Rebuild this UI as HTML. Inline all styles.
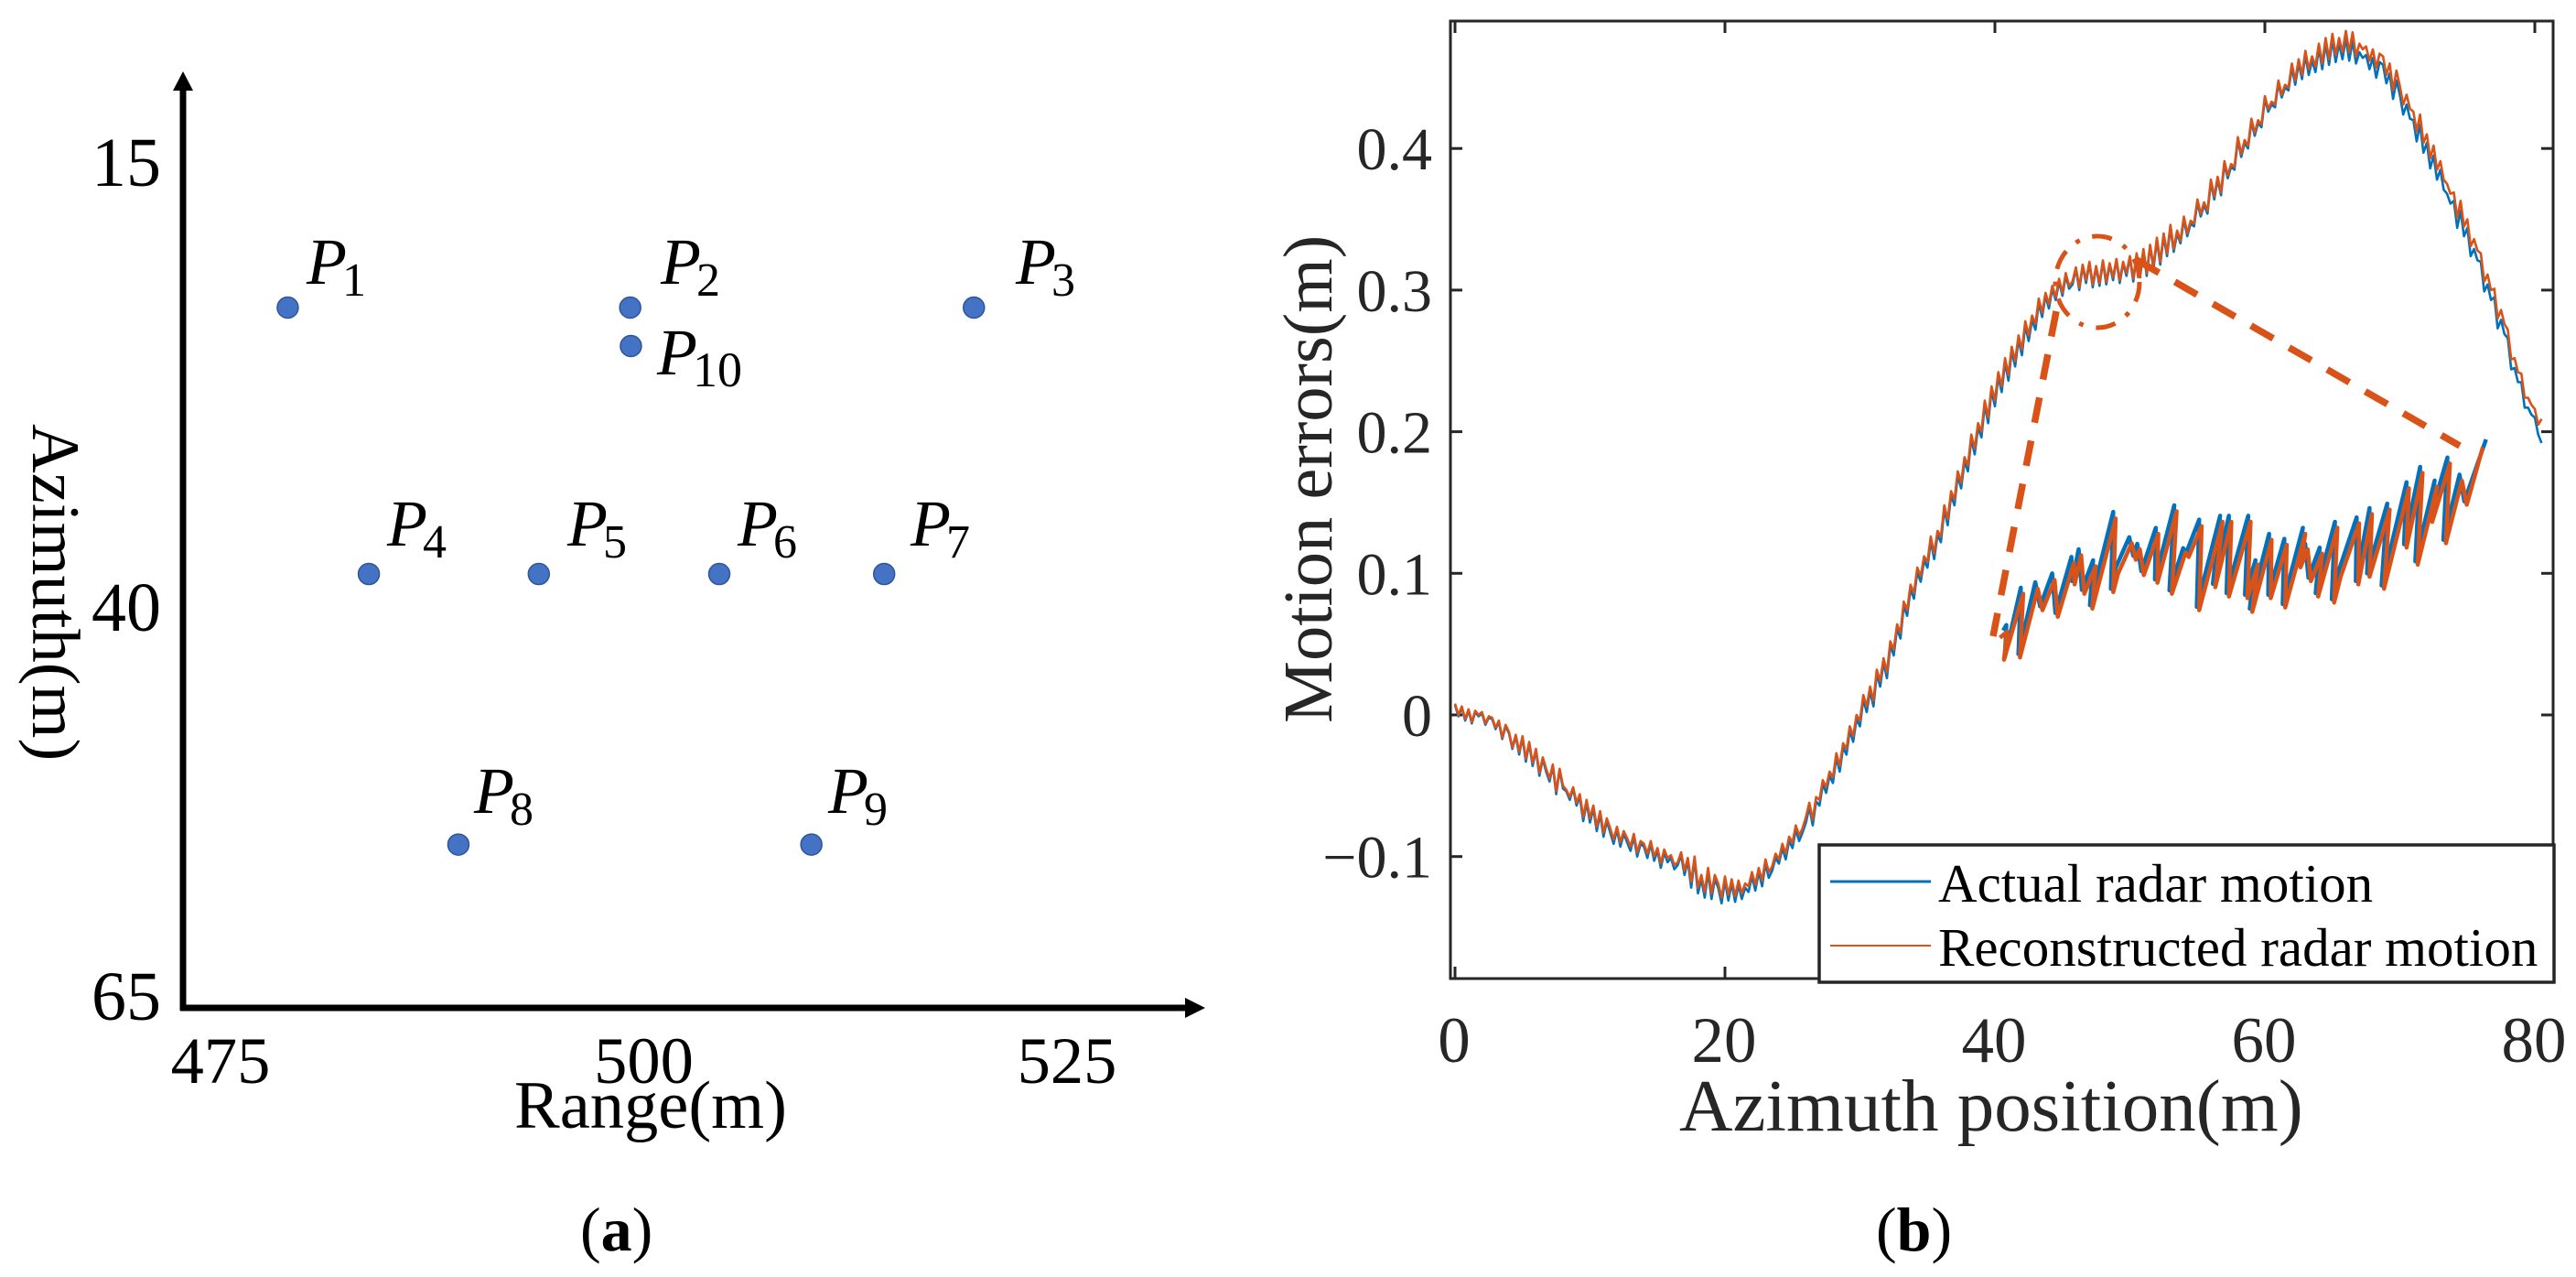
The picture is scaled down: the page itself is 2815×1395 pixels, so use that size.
<!DOCTYPE html>
<html lang="en">
<head>
<meta charset="utf-8">
<title>Point targets and radar motion errors</title>
<style>
  html, body { margin: 0; padding: 0; background: #fff; }
  svg { display: block; }
  text { font-family: "Liberation Serif", "Times New Roman", serif; }
</style>
</head>
<body>
<svg id="figure" xmlns="http://www.w3.org/2000/svg" width="2815" height="1395" viewBox="0 0 2815 1395">
  <rect x="0" y="0" width="2815" height="1395" fill="#ffffff"/>

  <!-- Panel (a) -->
  <g id="panel-a">
    <line x1="200" y1="1104" x2="200" y2="90" stroke="#000" stroke-width="7"/>
    <polygon points="200,78 189,99 211,99" fill="#000"/>
    <line x1="197" y1="1101" x2="1300" y2="1101" stroke="#000" stroke-width="7"/>
    <polygon points="1317,1101 1295,1090 1295,1112" fill="#000"/>
    <text x="562" y="1232" font-size="74.5" fill="#000">Range(m)</text>
    <text transform="translate(36,463) rotate(90)" font-size="74.5" fill="#000">Azimuth(m)</text>

    <g font-size="72" font-style="italic" fill="#000">
      <text x="335" y="310">P<tspan dx="-5" dy="13" font-size="52" font-style="normal">1</tspan></text>
      <text x="722" y="310">P<tspan dx="-5" dy="13" font-size="52" font-style="normal">2</tspan></text>
      <text x="1110" y="310">P<tspan dx="-5" dy="13" font-size="52" font-style="normal">3</tspan></text>
      <text x="718" y="409">P<tspan dx="-5" dy="13" font-size="54" font-style="normal">10</tspan></text>
      <text x="423" y="596">P<tspan dx="-5" dy="13" font-size="52" font-style="normal">4</tspan></text>
      <text x="620" y="596">P<tspan dx="-5" dy="13" font-size="52" font-style="normal">5</tspan></text>
      <text x="806" y="596">P<tspan dx="-5" dy="13" font-size="52" font-style="normal">6</tspan></text>
      <text x="995" y="596">P<tspan dx="-5" dy="13" font-size="52" font-style="normal">7</tspan></text>
      <text x="518" y="888">P<tspan dx="-5" dy="13" font-size="52" font-style="normal">8</tspan></text>
      <text x="905" y="888">P<tspan dx="-5" dy="13" font-size="52" font-style="normal">9</tspan></text>
    </g>
    <g id="panel-a-marks"></g>
    <text x="634" y="1366" font-size="68" fill="#000">(<tspan font-weight="bold">a</tspan>)</text>
  </g>

  <!-- Panel (b) -->
  <g id="panel-b">
    <rect x="1585" y="23" width="1205" height="1046" fill="none" stroke="#262626" stroke-width="3"/>
    <g id="panel-b-ticks"></g>
    <g id="panel-b-lines"></g>

    <line x1="2247" y1="340" x2="2178" y2="695" stroke="#D95319" stroke-width="7.5" stroke-dasharray="28 20"/>
    <line x1="2335" y1="284" x2="2688" y2="487" stroke="#D95319" stroke-width="7.5" stroke-dasharray="28 20"/>
    <ellipse cx="2292" cy="308" rx="46" ry="50" fill="none" stroke="#D95319" stroke-width="5" stroke-dasharray="22 14 5 14"/>

    <g id="panel-b-inset"></g>

    <g>
      <rect x="1988" y="923" width="803" height="150" fill="#ffffff" stroke="#262626" stroke-width="3.5"/>
      <line x1="2000" y1="963" x2="2110" y2="963" stroke="#0072BD" stroke-width="3"/>
      <text x="2118" y="985" font-size="59" fill="#000">Actual radar motion</text>
      <line x1="2000" y1="1033" x2="2110" y2="1033" stroke="#D95319" stroke-width="2"/>
      <text x="2118" y="1055" font-size="59" fill="#000">Reconstructed radar motion</text>
    </g>

    <text x="1835" y="1235" font-size="81" fill="#262626">Azimuth position(m)</text>
    <text transform="translate(1455,790) rotate(-90)" font-size="76.5" fill="#262626">Motion errors(m)</text>
    <text x="2050" y="1366" font-size="68" fill="#000">(<tspan font-weight="bold">b</tspan>)</text>
  </g>
</svg>

<script>
// ---- Panel (a) data ----
const rangeTicks = [475, 500, 525];
const azimuthTicks = [15, 40, 65];
const targetNames = ['P1', 'P2', 'P3', 'P10', 'P4', 'P5', 'P6', 'P7', 'P8', 'P9'];
const targetRange = [478.97, 499.2, 519.5, 499.24, 483.76, 493.8, 504.46, 514.2, 489.05, 509.9];
const targetAzimuth = [23.18, 23.18, 23.18, 25.34, 38.15, 38.15, 38.15, 38.15, 55.27, 55.27];

// ---- Panel (b) data ----
const xTickValues = [0, 20, 40, 60, 80];
const xTickLabels = ['0', '20', '40', '60', '80'];
const yTickValues = [-0.1, 0, 0.1, 0.2, 0.3, 0.4];
const yTickLabels = ['\u22120.1', '0', '0.1', '0.2', '0.3', '0.4'];
const sampleStep = 0.25;

const actualMotion = [
  .007,-.001,.005,-.004, .003,-.006,.002,-.001, .001,-.007,-.002,-.003, -.010,-.005,-.017,-.008,
  -.013,-.024,-.015,-.028, -.016,-.033,-.020,-.036, -.025,-.043,-.031,-.040, -.047,-.036,-.056,-.039,
  -.052,-.054,-.060,-.052, -.064,-.058,-.075,-.062, -.076,-.066,-.082,-.070, -.086,-.075,-.083,-.091,
  -.081,-.093,-.084,-.090, -.096,-.086,-.100,-.091, -.093,-.101,-.091,-.103, -.096,-.108,-.097,-.104,
  -.101,-.109,-.106,-.099, -.113,-.103,-.122,-.102, -.126,-.116,-.129,-.111, -.130,-.116,-.122,-.133,
  -.117,-.131,-.119,-.132, -.120,-.130,-.122,-.125, -.114,-.124,-.111,-.121, -.105,-.115,-.110,-.101,
  -.105,-.094,-.102,-.089, -.094,-.081,-.089,-.083, -.076,-.065,-.078,-.061, -.064,-.049,-.055,-.043,
  -.048,-.030,-.040,-.023, -.028,-.011,-.019,-.003, -.008,.011,.002,.017, .006,.029,.020,.037,
  .026,.049,.042,.061, .054,.077,.070,.089, .082,.101,.094,.109, .104,.123,.110,.127,
  .122,.145,.134,.155, .148,.169,.160,.179, .172,.195,.184,.203, .196,.219,.206,.229,
  .218,.239,.228,.249, .236,.257,.246,.265, .254,.275,.264,.279, .272,.291,.281,.296,
  .287,.301,.293,.306, .296,.310,.301,.304, .315,.300,.317,.305, .319,.302,.316,.303,
  .320,.304,.318,.307, .321,.305,.319,.310, .323,.306,.325,.309, .328,.310,.331,.315,
  .335,.318,.338,.324, .344,.327,.340,.333, .350,.338,.347,.345, .362,.352,.360,.354,
  .376,.364,.378,.367, .389,.379,.387,.385, .406,.394,.404,.400, .419,.409,.418,.415,
  .435,.426,.431,.429, .446,.436,.443,.441, .457,.445,.460,.449, .466,.452,.462,.454,
  .471,.456,.474,.459, .477,.461,.474,.463, .478,.462,.476,.460, .468,.464,.466,.456,
  .464,.450,.461,.459, .446,.453,.435,.448, .438,.424,.431,.421, .420,.405,.417,.397,
  .404,.386,.395,.378, .385,.371,.368,.361, .363,.344,.356,.338, .344,.324,.329,.321,
  .320,.299,.304,.293, .295,.273,.279,.269, .266,.244,.245,.235, .235,.217,.217,.212,
  .210,.198,.192
];

const reconstructedMotion = [
  .008,.000,.006,-.003, .004,-.005,.003,.000, .002,-.006,-.001,-.002, -.009,-.004,-.016,-.007,
  -.012,-.023,-.014,-.026, -.015,-.031,-.019,-.034, -.024,-.041,-.030,-.038, -.045,-.035,-.054,-.038,
  -.050,-.053,-.058,-.051, -.062,-.056,-.072,-.060, -.073,-.064,-.079,-.068, -.083,-.073,-.080,-.088,
  -.079,-.090,-.082,-.087, -.093,-.084,-.097,-.089, -.091,-.098,-.089,-.100, -.094,-.105,-.095,-.101,
  -.099,-.106,-.104,-.097, -.110,-.101,-.118,-.100, -.122,-.113,-.125,-.108, -.126,-.113,-.119,-.129,
  -.114,-.127,-.116,-.128, -.117,-.126,-.119,-.121, -.111,-.120,-.108,-.117, -.102,-.111,-.107,-.098,
  -.102,-.091,-.098,-.086, -.090,-.078,-.085,-.080, -.072,-.062,-.074,-.058, -.060,-.046,-.051,-.040,
  -.044,-.027,-.036,-.020, -.024,-.008,-.015,.000, -.004,.014,.006,.020, .010,.032,.024,.040,
  .030,.052,.046,.064, .058,.080,.074,.092, .086,.104,.098,.112, .108,.126,.114,.130,
  .126,.148,.138,.158, .152,.172,.164,.182, .176,.198,.188,.206, .200,.222,.210,.232,
  .222,.242,.232,.252, .240,.260,.250,.268, .258,.278,.268,.282, .276,.294,.284,.298,
  .290,.303,.295,.308, .298,.312,.303,.306, .316,.302,.318,.307, .320,.304,.317,.305,
  .321,.306,.319,.309, .322,.307,.320,.312, .324,.308,.326,.311, .329,.312,.332,.317,
  .337,.320,.340,.326, .346,.329,.342,.335, .352,.340,.349,.347, .364,.354,.362,.356,
  .378,.366,.380,.369, .391,.381,.389,.387, .408,.396,.406,.402, .421,.411,.420,.417,
  .437,.428,.433,.431, .448,.438,.445,.443, .460,.448,.463,.452, .469,.456,.465,.458,
  .474,.460,.478,.463, .481,.466,.478,.468, .483,.468,.482,.465, .474,.470,.472,.462,
  .470,.457,.467,.465, .452,.460,.441,.455, .444,.431,.438,.428, .426,.412,.424,.404,
  .410,.393,.402,.385, .391,.378,.375,.368, .369,.351,.363,.345, .350,.331,.336,.328,
  .326,.306,.311,.300, .301,.280,.286,.276, .272,.251,.252,.242, .241,.224,.224,.219,
  .216,.205,.209
];

const insetActualPos = [45.00,45.04,45.02,45.22,45.19,45.40,45.46,45.61,45.65,45.85,45.86,45.94,45.98,46.12,46.08,46.37,46.34,46.40,46.57,46.62,46.67,46.72,46.90,46.89,47.13,47.07,47.24,47.28,47.44,47.41,47.70,47.61,47.81,47.78,48.05,48.01,48.14,48.07,48.31,48.30,48.50,48.48,48.73,48.67,48.76,48.80,48.94,48.89,49.13,49.09,49.17,49.40,49.39,49.56,49.53,49.78,49.71,50.02,49.99,50.19,50.13,50.37,50.31,50.53,50.48,50.68,50.74,51.01];
const insetActualErr = [.2952,.2962,.2903,.3030,.2909,.3040,.2996,.3056,.2984,.3086,.3042,.3100,.3026,.3080,.2998,.3168,.3028,.3066,.3122,.3088,.3110,.3060,.3139,.3045,.3180,.3025,.3102,.3094,.3154,.2995,.3161,.3037,.3161,.3020,.3161,.3017,.3080,.2992,.3128,.3017,.3119,.3000,.3139,.3074,.3110,.3048,.3103,.3020,.3150,.3009,.3058,.3158,.3042,.3175,.3056,.3183,.3034,.3222,.3109,.3250,.3078,.3225,.3156,.3267,.3117,.3236,.3187,.3300];
const insetReconPos = [44.96,45.05,45.01,45.25,45.21,45.43,45.49,45.64,45.68,45.88,45.89,45.97,46.01,46.15,46.11,46.40,46.37,46.43,46.60,46.65,46.70,46.75,46.93,46.92,47.16,47.10,47.27,47.31,47.47,47.44,47.73,47.64,47.84,47.81,48.08,48.04,48.17,48.10,48.34,48.33,48.53,48.51,48.76,48.70,48.79,48.83,48.97,48.92,49.16,49.12,49.20,49.43,49.42,49.59,49.56,49.81,49.74,50.05,50.02,50.22,50.16,50.40,50.34,50.56,50.51,50.71,50.77,50.97];
const insetReconErr = [.2939,.2950,.2899,.3019,.2903,.3028,.2989,.3044,.2977,.3075,.3036,.3089,.3019,.3069,.2992,.3156,.3022,.3056,.3111,.3081,.3100,.3053,.3128,.3039,.3169,.3019,.3094,.3086,.3142,.2989,.3150,.3031,.3150,.3014,.3150,.3011,.3072,.2986,.3117,.3011,.3108,.2994,.3128,.3067,.3100,.3042,.3092,.3014,.3139,.3003,.3050,.3147,.3036,.3164,.3050,.3172,.3028,.3211,.3103,.3239,.3072,.3214,.3150,.3256,.3111,.3225,.3181,.3286];

// ---- Scales ----
function rangeX(v) { return 241 + (v - 475) * 18.5; }
// The reference's azimuth axis is hand-placed and not evenly spaced: piecewise scale.
function azimuthY(v) { return v <= 40 ? 177 + (v - 15) * 19.44 : 663 + (v - 40) * 17; }
function motionX(v) { return 1590 + v * 14.75; }
function motionY(v) { return 781 - v * 1547; }
function insetX(v) { return 2189 + (v - 45) * 87.8; }
function insetY(v) { return 720 - (v - 0.29) * 6000; }

const SVGNS = 'http://www.w3.org/2000/svg';
function make(parent, tag, attrs, content) {
  const node = document.createElementNS(SVGNS, tag);
  Object.keys(attrs).forEach(function (k) { node.setAttribute(k, attrs[k]); });
  if (content !== undefined) node.textContent = content;
  parent.appendChild(node);
  return node;
}

// ---- Panel (a) marks ----
const marksA = document.getElementById('panel-a-marks');
const panelA = document.getElementById('panel-a');
targetNames.forEach(function (name, i) {
  const el = make(marksA, 'circle', {
    cx: rangeX(targetRange[i]), cy: azimuthY(targetAzimuth[i]), r: 11.5,
    fill: '#4472C4', stroke: '#2F5597', 'stroke-width': 1.5
  });
  
  
});
rangeTicks.forEach(function (v) {
  const el = make(panelA, 'text', {
    x: rangeX(v), y: 1183, 'font-size': 72.5, 'text-anchor': 'middle', fill: '#000'
  }, String(v));
  
  
});
azimuthTicks.forEach(function (v) {
  const el = make(panelA, 'text', {
    x: 176, y: azimuthY(v) + 26, 'font-size': 76, 'text-anchor': 'end', fill: '#000'
  }, String(v));
  
  
});

// ---- Panel (b) ticks ----
const ticksB = document.getElementById('panel-b-ticks');
xTickValues.forEach(function (v, i) {
  const px = motionX(v);
  const bottom = make(ticksB, 'line', { x1: px, x2: px, y1: 1069, y2: 1056, stroke: '#262626', 'stroke-width': 3 });
  
  
  const top = make(ticksB, 'line', { x1: px, x2: px, y1: 23, y2: 36, stroke: '#262626', 'stroke-width': 3 });
  
  
  const label = make(ticksB, 'text', { x: px - 1, y: 1160, 'font-size': 71, 'text-anchor': 'middle', fill: '#262626' }, xTickLabels[i]);
  
  
});
yTickValues.forEach(function (v, i) {
  const py = motionY(v);
  const left = make(ticksB, 'line', { x1: 1585, x2: 1598, y1: py, y2: py, stroke: '#262626', 'stroke-width': 3 });
  
  
  const right = make(ticksB, 'line', { x1: 2790, x2: 2777, y1: py, y2: py, stroke: '#262626', 'stroke-width': 3 });
  
  
  const label = make(ticksB, 'text', { x: 1565, y: py + 23, 'font-size': 66, 'text-anchor': 'end', fill: '#262626' }, yTickLabels[i]);
  
  
});

// ---- Panel (b) series ----
function mainPoints(values) {
  return values.map(function (v, i) {
    return motionX(i * sampleStep).toFixed(1) + ',' + motionY(v).toFixed(1);
  }).join(' ');
}
function insetPoints(pos, err) {
  return pos.map(function (p, i) {
    return insetX(p).toFixed(1) + ',' + insetY(err[i]).toFixed(1);
  }).join(' ');
}
const linesB = document.getElementById('panel-b-lines');
const actualLine = make(linesB, 'polyline', { points: mainPoints(actualMotion), fill: 'none', stroke: '#0072BD', 'stroke-width': 2.6, 'stroke-linejoin': 'round' });


const reconLine = make(linesB, 'polyline', { points: mainPoints(reconstructedMotion), fill: 'none', stroke: '#D95319', 'stroke-width': 2.6, 'stroke-linejoin': 'round' });



const insetB = document.getElementById('panel-b-inset');
const insetActual = make(insetB, 'polyline', { points: insetPoints(insetActualPos, insetActualErr), fill: 'none', stroke: '#0072BD', 'stroke-width': 4.5, 'stroke-linejoin': 'round' });


const insetRecon = make(insetB, 'polyline', { points: insetPoints(insetReconPos, insetReconErr), fill: 'none', stroke: '#D95319', 'stroke-width': 4.5, 'stroke-linejoin': 'round' });


</script>
</body>
</html>
